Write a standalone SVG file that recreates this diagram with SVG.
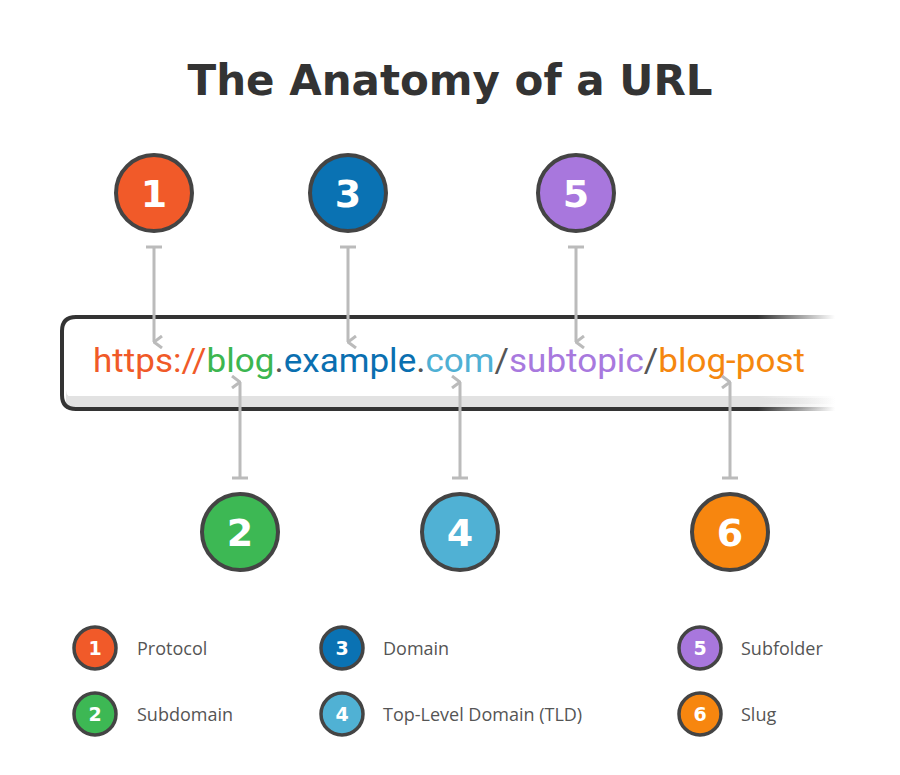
<svg xmlns="http://www.w3.org/2000/svg" width="900" height="775" viewBox="0 0 900 775">
<style>
.big{stroke:#444;stroke-width:4}
.bn{font-family:"DejaVu Sans","Liberation Sans",sans-serif;font-weight:bold;font-size:38px;fill:#fff;text-anchor:middle}
.sm{stroke:#444;stroke-width:3.5}
.sn{font-family:"DejaVu Sans","Liberation Sans",sans-serif;font-weight:bold;font-size:19px;fill:#fff;text-anchor:middle}
.lb{font-family:"Open Sans","Liberation Sans",sans-serif;font-size:18px;fill:#555}
.ar{stroke:#bbb;stroke-width:3;fill:none}
</style>
<defs>
<linearGradient id="fade" x1="0" x2="1" y1="0" y2="0">
<stop offset="0.9" stop-color="#333"/><stop offset="1" stop-color="#333" stop-opacity="0"/>
</linearGradient>
<linearGradient id="fade2" x1="0" x2="1" y1="0" y2="0">
<stop offset="0.9" stop-color="#e2e2e2"/><stop offset="1" stop-color="#e2e2e2" stop-opacity="0"/>
</linearGradient>
<marker id="ah" markerWidth="14" markerHeight="10" refX="7" refY="9" orient="auto-start-reverse" markerUnits="userSpaceOnUse" viewBox="0 0 14 10">
<path d="M1,1 L7,9 L13,1" fill="none" stroke="#bbb" stroke-width="3"/>
</marker>
</defs>
<rect width="900" height="775" fill="#fff"/>
<text x="450" y="95" text-anchor="middle" font-family="DejaVu Sans,Liberation Sans,sans-serif" font-weight="bold" font-size="42" fill="#333">The Anatomy of a URL</text>
<g id="urlbox">
<path d="M835,398 H76 Q66,398 66,390 V404 H835 Z" fill="url(#fade2)"/>
<rect x="66" y="396" width="769" height="13" fill="url(#fade2)"/>
<path d="M835,317 H76 Q62,317 62,331 V395 Q62,409 76,409 H835" fill="none" stroke="url(#fade)" stroke-width="4"/>
<text x="93" y="372" font-family="Roboto,'Liberation Sans',sans-serif" font-size="33" textLength="712" lengthAdjust="spacingAndGlyphs"><tspan fill="#f05a28">https://</tspan><tspan fill="#3cb650">blog</tspan><tspan fill="#555">.</tspan><tspan fill="#0a6fb0">example</tspan><tspan fill="#555">.</tspan><tspan fill="#4fb0d4">com</tspan><tspan fill="#555">/</tspan><tspan fill="#a879de">subtopic</tspan><tspan fill="#555">/</tspan><tspan fill="#f5870e">blog-post</tspan></text>
</g>
<g id="connectors">
<path class="ar" d="M146,247 H162 M154,247 V342" marker-end="url(#ah)"/>
<path class="ar" d="M340,247 H356 M348,247 V342" marker-end="url(#ah)"/>
<path class="ar" d="M568,247 H584 M576,247 V342" marker-end="url(#ah)"/>
<path class="ar" d="M232,478 H248 M240,478 V382" marker-end="url(#ah)"/>
<path class="ar" d="M452,478 H468 M460,478 V382" marker-end="url(#ah)"/>
<path class="ar" d="M722,478 H738 M730,478 V382" marker-end="url(#ah)"/>
</g>
<g id="n1"><circle class="big" cx="154" cy="193" r="38" fill="#f15a29"/><text class="bn" x="154" y="207">1</text></g>
<g id="n3"><circle class="big" cx="348" cy="193" r="38" fill="#0a72b3"/><text class="bn" x="348" y="207">3</text></g>
<g id="n5"><circle class="big" cx="576" cy="193" r="38" fill="#a877dd"/><text class="bn" x="576" y="207">5</text></g>
<g id="n2"><circle class="big" cx="240" cy="532" r="38" fill="#3db854"/><text class="bn" x="240" y="546">2</text></g>
<g id="n4"><circle class="big" cx="460" cy="532" r="38" fill="#50b1d4"/><text class="bn" x="460" y="546">4</text></g>
<g id="n6"><circle class="big" cx="730" cy="532" r="38" fill="#f7860f"/><text class="bn" x="730" y="546">6</text></g>
<g id="legend">
<circle class="sm" cx="95" cy="648" r="21" fill="#f15a29"/><text class="sn" x="95" y="655">1</text><text class="lb" x="137" y="655">Protocol</text>
<circle class="sm" cx="95" cy="714" r="21" fill="#3db854"/><text class="sn" x="95" y="721">2</text><text class="lb" x="137" y="721">Subdomain</text>
<circle class="sm" cx="342" cy="648" r="21" fill="#0a72b3"/><text class="sn" x="342" y="655">3</text><text class="lb" x="383" y="655">Domain</text>
<circle class="sm" cx="342" cy="714" r="21" fill="#50b1d4"/><text class="sn" x="342" y="721">4</text><text class="lb" x="383" y="721">Top-Level Domain (TLD)</text>
<circle class="sm" cx="700" cy="648" r="21" fill="#a877dd"/><text class="sn" x="700" y="655">5</text><text class="lb" x="741" y="655">Subfolder</text>
<circle class="sm" cx="700" cy="714" r="21" fill="#f7860f"/><text class="sn" x="700" y="721">6</text><text class="lb" x="741" y="721">Slug</text>
</g>
</svg>
